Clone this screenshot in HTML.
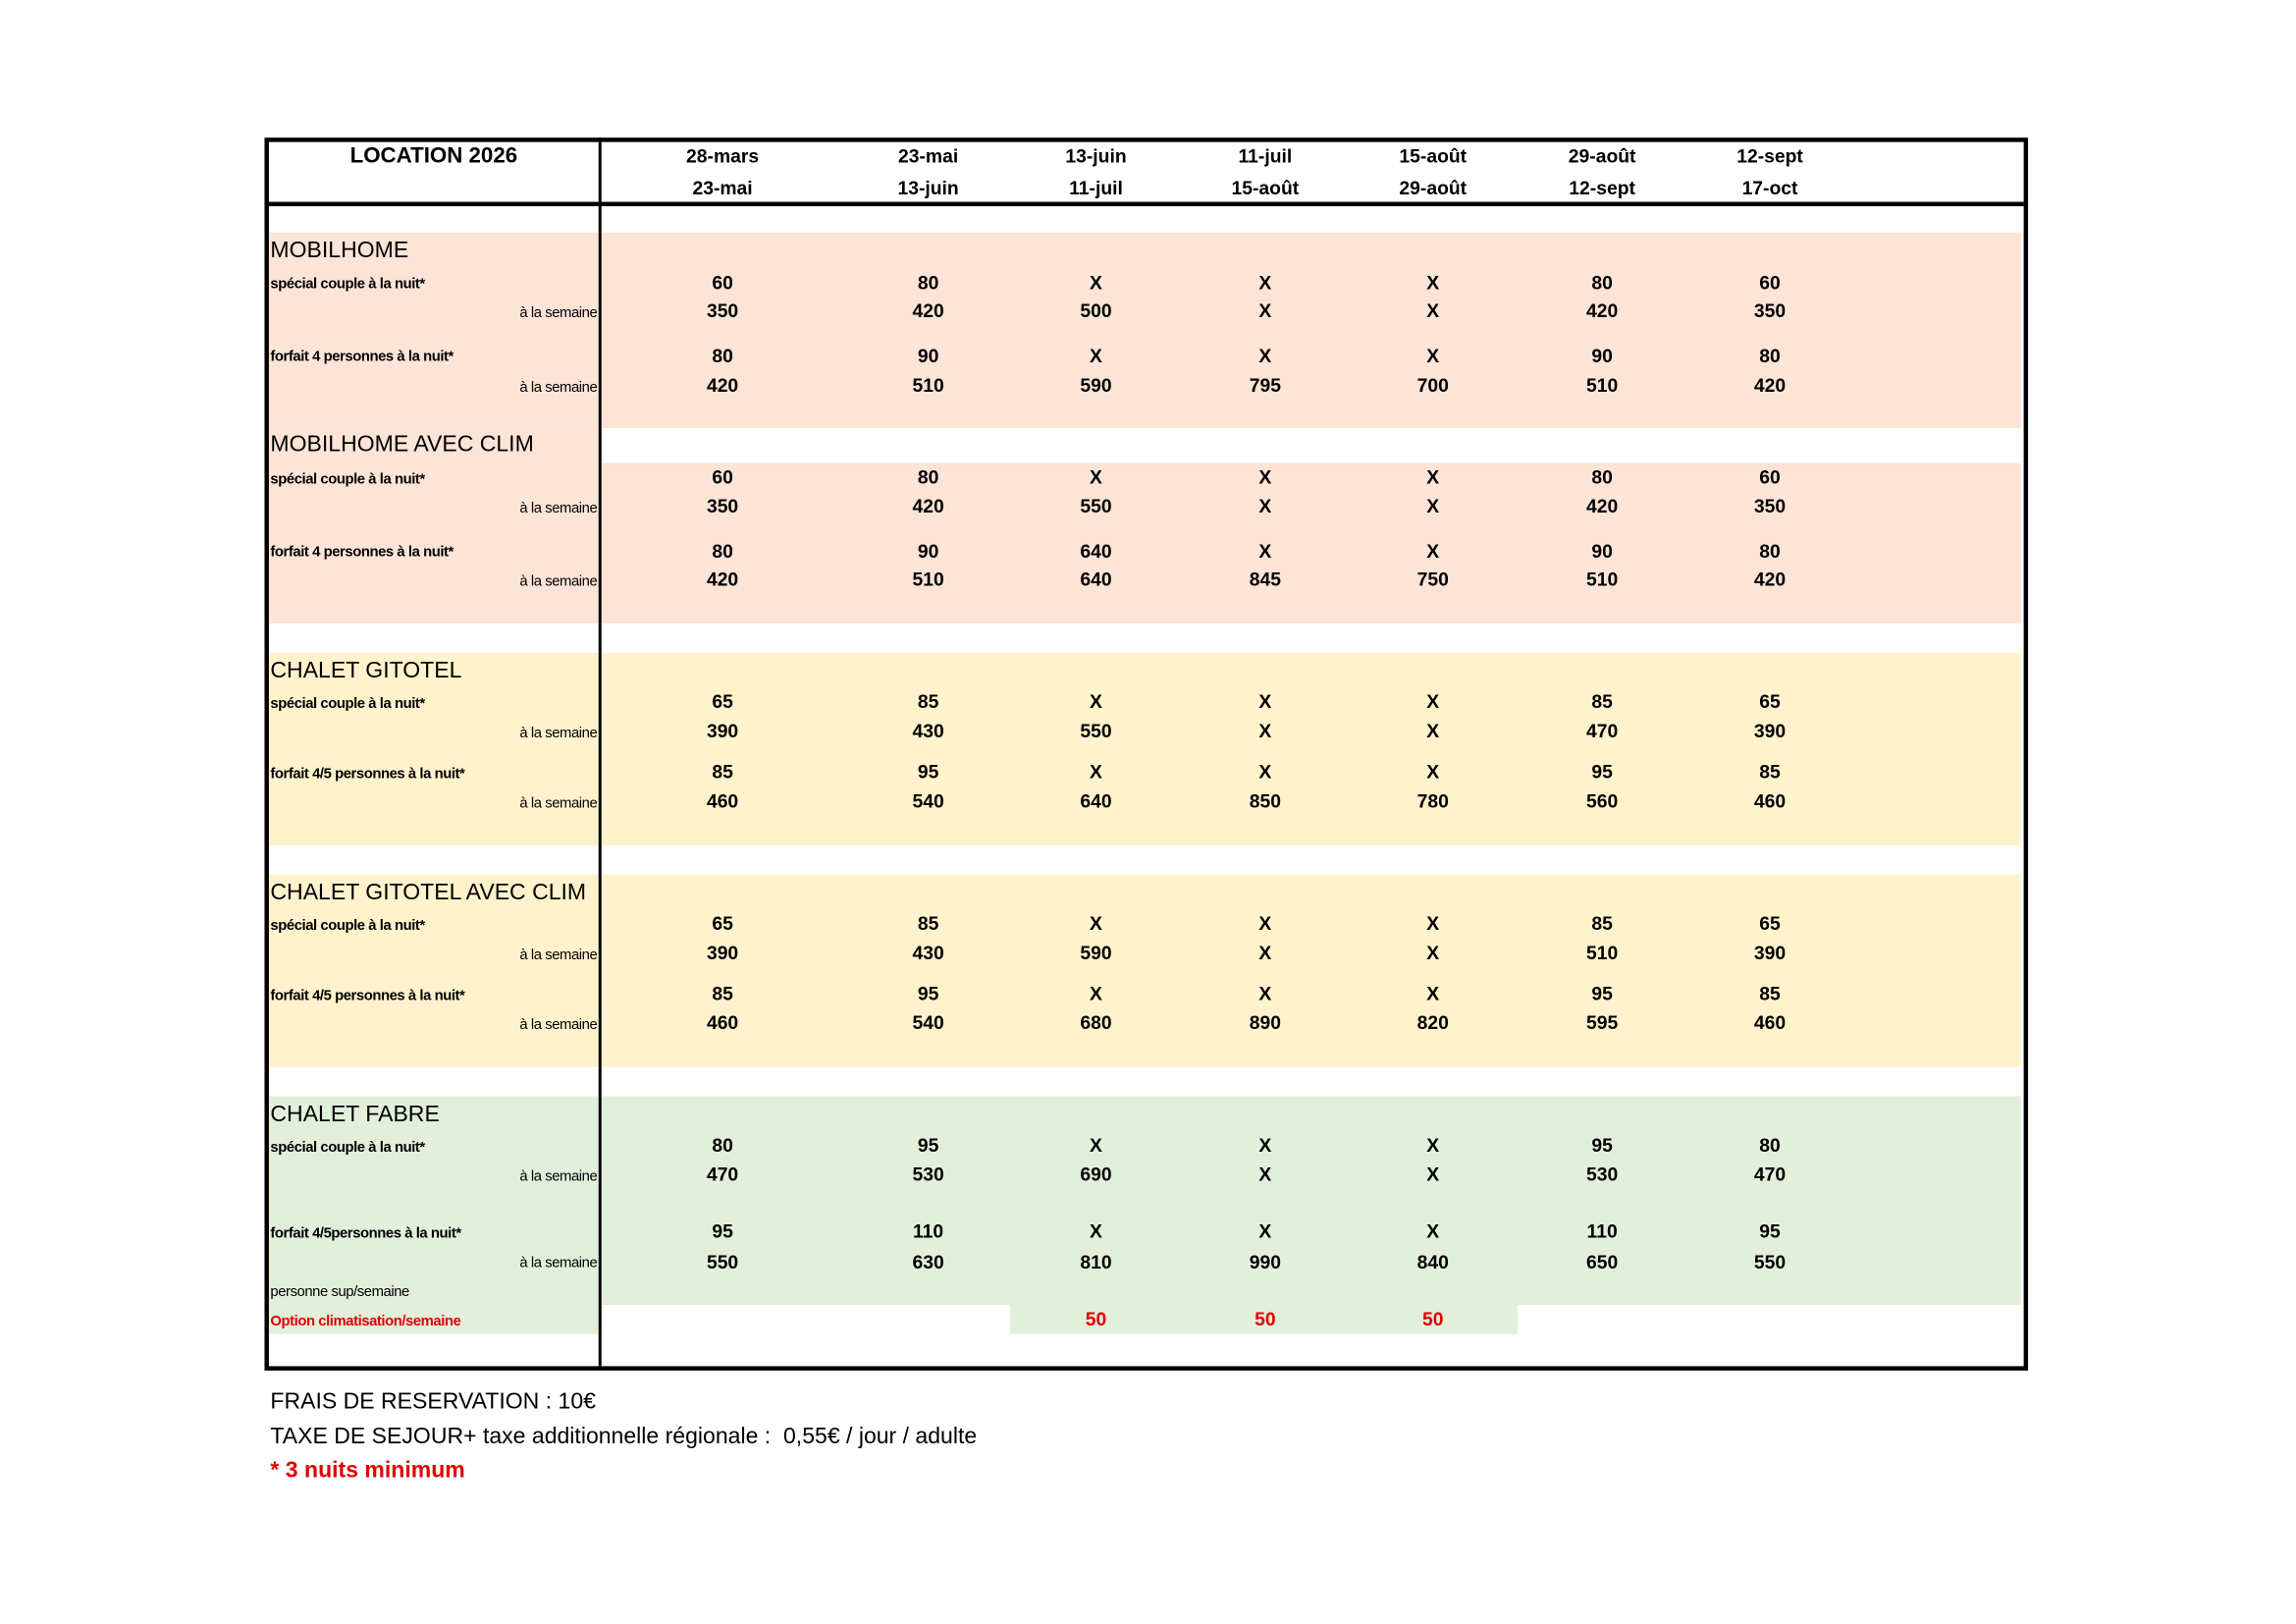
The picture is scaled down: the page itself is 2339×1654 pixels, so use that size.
<!DOCTYPE html>
<html><head><meta charset="utf-8"><style>
html,body{margin:0;padding:0;background:#fff;}
body{width:2339px;height:1654px;overflow:hidden;position:relative;}
#p{position:absolute;left:0;top:0;width:1548px;height:1095px;transform:translate(2px,2px) scale(1.486);transform-origin:0 0;font-family:"Liberation Sans Narrow","Liberation Sans",sans-serif;color:#000;}
.b{position:absolute;}
.r{position:absolute;left:0;width:1548px;height:16px;line-height:16px;font-size:13px;font-weight:bold;}
.r span{position:absolute;width:80px;margin-left:-40px;text-align:center;}
.r span:nth-child(1){left:494px}.r span:nth-child(2){left:635px}.r span:nth-child(3){left:750px}
.r span:nth-child(4){left:866px}.r span:nth-child(5){left:981px}.r span:nth-child(6){left:1097px}.r span:nth-child(7){left:1212px}
.t{position:absolute;left:184px;font-size:15.5px;line-height:18px;white-space:nowrap;}
.l{position:absolute;left:184px;font-size:10px;font-weight:bold;line-height:12px;white-space:nowrap;letter-spacing:-0.3px;}
.s{position:absolute;left:300px;width:108px;text-align:right;font-size:10px;line-height:12px;white-space:nowrap;letter-spacing:-0.3px;}
.f{position:absolute;left:184px;font-size:15.5px;line-height:18px;white-space:nowrap;}
</style></head><body><div id="p">
<div class="b" style="left:183px;top:158px;width:1201px;height:134px;background:#FCE4D6"></div>
<div class="b" style="left:183px;top:292px;width:228px;height:24px;background:#FCE4D6"></div>
<div class="b" style="left:183px;top:316px;width:1201px;height:110px;background:#FCE4D6"></div>
<div class="b" style="left:183px;top:446px;width:1201px;height:132px;background:#FFF2CC"></div>
<div class="b" style="left:183px;top:598px;width:1201px;height:132px;background:#FFF2CC"></div>
<div class="b" style="left:183px;top:750px;width:1201px;height:143px;background:#E2EFDA"></div>
<div class="b" style="left:183px;top:893px;width:228px;height:20px;background:#E2EFDA"></div>
<div class="b" style="left:691px;top:893px;width:348px;height:20px;background:#E2EFDA"></div>
<div class="b" style="left:180px;top:93px;width:1203px;height:839px;border:3px solid #000"></div>
<div class="b" style="left:180px;top:137px;width:1206px;height:3px;background:#000"></div>
<div class="b" style="left:409px;top:93px;width:2px;height:842px;background:#000"></div>
<div class="b" style="left:183px;top:97px;width:226px;text-align:center;font-size:15px;font-weight:bold;line-height:18px">LOCATION 2026</div>
<div class="r" style="top:98px"><span>28-mars</span><span>23-mai</span><span>13-juin</span><span>11-juil</span><span>15-août</span><span>29-août</span><span>12-sept</span></div>
<div class="r" style="top:120px"><span>23-mai</span><span>13-juin</span><span>11-juil</span><span>15-août</span><span>29-août</span><span>12-sept</span><span>17-oct</span></div>

<div class="t" style="top:162px">MOBILHOME</div>
<div class="l" style="top:188px">spécial couple à la nuit*</div>
<div class="s" style="top:208px">à la semaine</div>
<div class="r" style="top:185px"><span>60</span><span>80</span><span>X</span><span>X</span><span>X</span><span>80</span><span>60</span></div>
<div class="r" style="top:204px"><span>350</span><span>420</span><span>500</span><span>X</span><span>X</span><span>420</span><span>350</span></div>
<div class="l" style="top:238px">forfait 4 personnes à la nuit*</div>
<div class="s" style="top:259px">à la semaine</div>
<div class="r" style="top:235px"><span>80</span><span>90</span><span>X</span><span>X</span><span>X</span><span>90</span><span>80</span></div>
<div class="r" style="top:255px"><span>420</span><span>510</span><span>590</span><span>795</span><span>700</span><span>510</span><span>420</span></div>

<div class="t" style="top:295px">MOBILHOME AVEC CLIM</div>
<div class="l" style="top:322px">spécial couple à la nuit*</div>
<div class="s" style="top:342px">à la semaine</div>
<div class="r" style="top:318px"><span>60</span><span>80</span><span>X</span><span>X</span><span>X</span><span>80</span><span>60</span></div>
<div class="r" style="top:338px"><span>350</span><span>420</span><span>550</span><span>X</span><span>X</span><span>420</span><span>350</span></div>
<div class="l" style="top:372px">forfait 4 personnes à la nuit*</div>
<div class="s" style="top:392px">à la semaine</div>
<div class="r" style="top:369px"><span>80</span><span>90</span><span>640</span><span>X</span><span>X</span><span>90</span><span>80</span></div>
<div class="r" style="top:388px"><span>420</span><span>510</span><span>640</span><span>845</span><span>750</span><span>510</span><span>420</span></div>

<div class="t" style="top:450px">CHALET GITOTEL</div>
<div class="l" style="top:476px">spécial couple à la nuit*</div>
<div class="s" style="top:496px">à la semaine</div>
<div class="r" style="top:472px"><span>65</span><span>85</span><span>X</span><span>X</span><span>X</span><span>85</span><span>65</span></div>
<div class="r" style="top:492px"><span>390</span><span>430</span><span>550</span><span>X</span><span>X</span><span>470</span><span>390</span></div>
<div class="l" style="top:524px">forfait 4/5 personnes à la nuit*</div>
<div class="s" style="top:544px">à la semaine</div>
<div class="r" style="top:520px"><span>85</span><span>95</span><span>X</span><span>X</span><span>X</span><span>95</span><span>85</span></div>
<div class="r" style="top:540px"><span>460</span><span>540</span><span>640</span><span>850</span><span>780</span><span>560</span><span>460</span></div>

<div class="t" style="top:602px">CHALET GITOTEL AVEC CLIM</div>
<div class="l" style="top:628px">spécial couple à la nuit*</div>
<div class="s" style="top:648px">à la semaine</div>
<div class="r" style="top:624px"><span>65</span><span>85</span><span>X</span><span>X</span><span>X</span><span>85</span><span>65</span></div>
<div class="r" style="top:644px"><span>390</span><span>430</span><span>590</span><span>X</span><span>X</span><span>510</span><span>390</span></div>
<div class="l" style="top:676px">forfait 4/5 personnes à la nuit*</div>
<div class="s" style="top:696px">à la semaine</div>
<div class="r" style="top:672px"><span>85</span><span>95</span><span>X</span><span>X</span><span>X</span><span>95</span><span>85</span></div>
<div class="r" style="top:692px"><span>460</span><span>540</span><span>680</span><span>890</span><span>820</span><span>595</span><span>460</span></div>

<div class="t" style="top:754px">CHALET FABRE</div>
<div class="l" style="top:780px">spécial couple à la nuit*</div>
<div class="s" style="top:800px">à la semaine</div>
<div class="r" style="top:776px"><span>80</span><span>95</span><span>X</span><span>X</span><span>X</span><span>95</span><span>80</span></div>
<div class="r" style="top:796px"><span>470</span><span>530</span><span>690</span><span>X</span><span>X</span><span>530</span><span>470</span></div>
<div class="l" style="top:839px">forfait 4/5personnes à la nuit*</div>
<div class="s" style="top:859px">à la semaine</div>
<div class="r" style="top:835px"><span>95</span><span>110</span><span>X</span><span>X</span><span>X</span><span>110</span><span>95</span></div>
<div class="r" style="top:856px"><span>550</span><span>630</span><span>810</span><span>990</span><span>840</span><span>650</span><span>550</span></div>
<div class="l" style="top:879px;font-weight:normal">personne sup/semaine</div>
<div class="l" style="top:899px;color:#e00000">Option climatisation/semaine</div>
<div class="r" style="top:895px;color:#e00000"><span></span><span></span><span>50</span><span>50</span><span>50</span></div>

<div class="f" style="top:951px">FRAIS DE RESERVATION : 10€</div>
<div class="f" style="top:975px">TAXE DE SEJOUR+ taxe additionnelle régionale :&nbsp; 0,55€ / jour / adulte</div>
<div class="f" style="top:998px;color:#e00000;font-weight:bold">* 3 nuits minimum</div>
</div></body></html>
